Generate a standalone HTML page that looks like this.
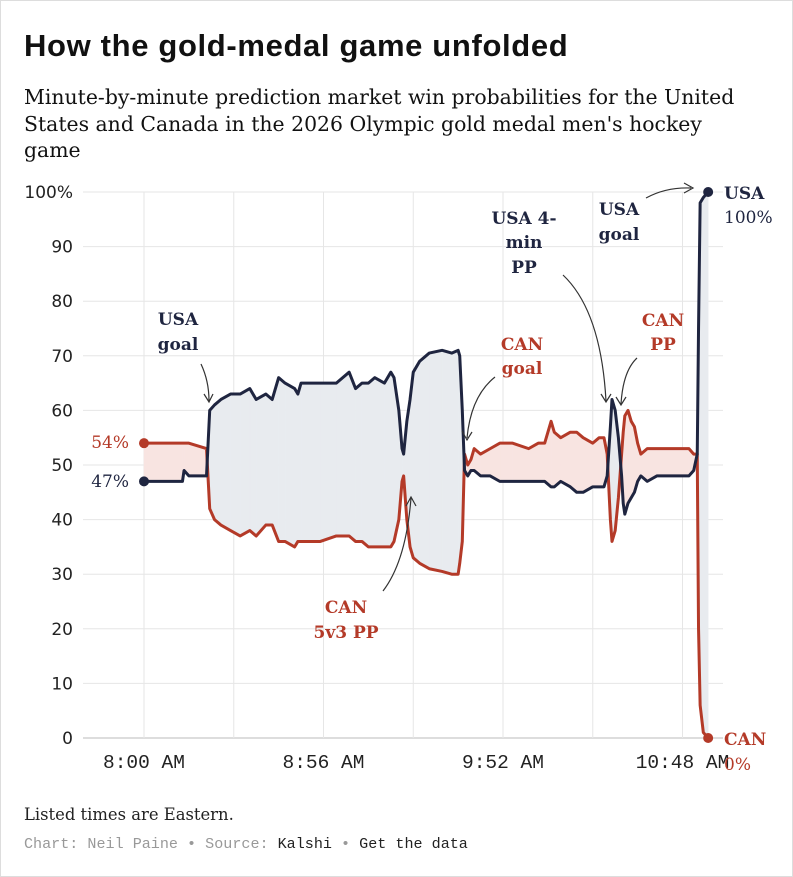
<!DOCTYPE html>
<html><head><meta charset="utf-8"><style>
body{margin:0;background:#fff;}
#wrap{position:relative;width:791px;height:875px;border:1px solid #ddd;background:#fff;overflow:hidden;}
h1{position:absolute;left:23px;top:27px;margin:0;font:bold 31px "Liberation Sans",sans-serif;color:#111;letter-spacing:0.65px}
.sub{position:absolute;left:23px;top:83px;width:740px;margin:0;font:20.4px/26.5px "DejaVu Serif",serif;color:#111}
.sub .br{display:block}
.note{position:absolute;left:23px;top:804px;font:16.4px "DejaVu Serif",serif;color:#222}
.foot{position:absolute;left:23px;top:834px;font:15.1px "Liberation Mono",monospace;color:#999}
.foot b{font-weight:normal;color:#222}
svg{position:absolute;left:0;top:0}
</style></head><body>
<div id="wrap">
<h1>How the gold-medal game unfolded</h1>
<p class="sub">Minute-by-minute prediction market win probabilities for the United<br>States and Canada in the 2026 Olympic gold medal men's hockey<br>game</p>
<svg id="chart" width="793" height="877"></svg>
<div class="note">Listed times are Eastern.</div>
<div class="foot">Chart: Neil Paine • Source: <b>Kalshi</b> • <b>Get the data</b></div>
</div>
<script>
const minutes=[0,12,12.5,14,19.5,20.5,22,24,27,30,33,35,38,40,42,44,47,48,49,55,60,64,66,68,70,72,75,77,78,79.5,80.5,81,82,83,84,86,89,93,96,98,98.5,99.3,100,101,102,103,105,108,111,115,120,123,125,127,128,130,133,135,137,140,142,143.5,144.5,145.5,146,147,148,149,149.5,150,151,152,153,154,155,157,160,165,170,171.5,172.6,173,173.5,174.5,176];
const usaValues=[47,47,49,48,48,60,61,62,63,63,64,62,63,62,66,65,64,63,65,65,65,67,64,65,65,66,65,67,66,60,53,52,58,62,67,69,70.5,71,70.5,71,70,60,49,48,49,49,48,48,47,47,47,47,47,46,46,47,46,45,45,46,46,46,48,57,62,60,55,48,43,41,43,44,45,47,48,47,48,48,48,49,52,75,98,99,100];
const canValues=[54,54,54,54,53,42,40,39,38,37,38,37,39,39,36,36,35,36,36,36,37,37,36,36,35,35,35,35,36,40,47,48,40,35,33,32,31,30.5,30,30,32,36,52,50,51,53,52,53,54,54,53,54,54,58,56,55,56,56,55,54,55,55,52,40,36,38,44,52,56,59,60,58,57,54,52,53,53,53,53,52,52,20,6,1,0];
const yTicks=[0,10,20,30,40,50,60,70,80,90,100];
const xTickMinutes=[0,56,112,168];
const xTickLabels=["8:00 AM","8:56 AM","9:52 AM","10:48 AM"];
const gridMinutes=[0,28,56,84,112,140,168];

const svg=document.getElementById('chart');
const NS='http://www.w3.org/2000/svg';
const X=m=>143+m*3.2054;
const Y=v=>737-v*5.46;
function mk(tag,attrs,parent){const e=document.createElementNS(NS,tag);for(const k in attrs)e.setAttribute(k,attrs[k]);(parent||svg).appendChild(e);return e;}
const USA='#1f2540',CAN='#b43a28';
yTicks.forEach(t=>{
  const l=mk('line',{x1:82,x2:722,y1:Y(t),y2:Y(t),stroke:t===0?'#bbb':'#e6e6e6','stroke-width':1});
  
  
  const tx=mk('text',{x:72,y:Y(t)+6,'text-anchor':'end','font-family':'DejaVu Sans, sans-serif','font-size':17,fill:'#222'});
  tx.textContent=t===100?'100%':String(t);
  
  
});
gridMinutes.forEach(m=>{
  const l=mk('line',{x1:X(m),x2:X(m),y1:191,y2:737,stroke:'#e6e6e6','stroke-width':1});
  
  
});
xTickMinutes.forEach((m,i)=>{
  const tx=mk('text',{x:X(m),y:767,'text-anchor':'middle','font-family':'Liberation Mono, monospace','font-size':19.5,fill:'#222'});
  tx.textContent=xTickLabels[i];
  
  
});
const fillG=mk('g',{});


for(let i=0;i<minutes.length-1;i++){
  const m0=minutes[i],m1=minutes[i+1],u0=usaValues[i],u1=usaValues[i+1],c0=canValues[i],c1=canValues[i+1];
  const d0=u0-c0,d1=u1-c1;
  const segs=[];
  if(d0*d1<0){const t=d0/(d0-d1);const mm=m0+t*(m1-m0),vv=u0+t*(u1-u0);
    segs.push([m0,u0,c0,mm,vv,vv,d0]);segs.push([mm,vv,vv,m1,u1,c1,d1]);}
  else segs.push([m0,u0,c0,m1,u1,c1,d0+d1]);
  segs.forEach(s=>{
    mk('polygon',{points:`${X(s[0])},${Y(s[1])} ${X(s[3])},${Y(s[4])} ${X(s[3])},${Y(s[5])} ${X(s[0])},${Y(s[2])}`,fill:s[6]>=0?'#e8ebef':'#f8e4e1',stroke:s[6]>=0?'#e8ebef':'#f8e4e1','stroke-width':0.5},fillG);
  });
}
function line(vals,col,name){
  const p=mk('polyline',{points:minutes.map((m,i)=>X(m)+','+Y(vals[i])).join(' '),fill:'none',stroke:col,'stroke-width':3,'stroke-linejoin':'round'});
  
  
}
line(canValues,CAN,'can-line');
line(usaValues,USA,'usa-line');
const last=minutes.length-1;
[[0,usaValues,USA,'usa-start-dot'],[0,canValues,CAN,'can-start-dot'],[last,usaValues,USA,'usa-end-dot'],[last,canValues,CAN,'can-end-dot']].forEach(a=>{
  const c=mk('circle',{cx:X(minutes[a[0]]),cy:Y(a[1][a[0]]),r:5,fill:a[2]});
  
  
});
function txt(x,y,s,col,bold,anchor,name){
  const t=mk('text',{x:x,y:y,'text-anchor':anchor||'middle','font-family':'DejaVu Serif, serif','font-size':17,'font-weight':bold?'bold':'normal',fill:col});
  t.textContent=s;
  
  
}
txt(128,447,Math.round(canValues[0])+'%',CAN,false,'end','can-start-label');
txt(128,486,Math.round(usaValues[0])+'%',USA,false,'end','usa-start-label');
txt(723,198,'USA',USA,true,'start','usa-end-label');
txt(723,222,usaValues[last]+'%',USA,false,'start','usa-end-value');
txt(723,744,'CAN',CAN,true,'start','can-end-label');
txt(723,769,canValues[last]+'%',CAN,false,'start','can-end-value');
txt(177,324,'USA',USA,true,'middle','annotation-usa-goal-1');
txt(177,349,'goal',USA,true,'middle','annotation-usa-goal-1');
txt(345,612,'CAN',CAN,true,'middle','annotation-can-5v3');
txt(345,637,'5v3 PP',CAN,true,'middle','annotation-can-5v3');
txt(521,349,'CAN',CAN,true,'middle','annotation-can-goal');
txt(521,373,'goal',CAN,true,'middle','annotation-can-goal');
txt(523,223,'USA 4-',USA,true,'middle','annotation-usa-4min-pp');
txt(523,247,'min',USA,true,'middle','annotation-usa-4min-pp');
txt(523,272,'PP',USA,true,'middle','annotation-usa-4min-pp');
txt(662,325,'CAN',CAN,true,'middle','annotation-can-pp');
txt(662,349,'PP',CAN,true,'middle','annotation-can-pp');
txt(618,214,'USA',USA,true,'middle','annotation-usa-goal-2');
txt(618,239,'goal',USA,true,'middle','annotation-usa-goal-2');
const arrows=[
 ['M200,363 Q208,380 208,400','M203,393 L208,401 L212,393'],
 ['M382,590 Q405,560 410,497','M405,505 L410,496 L415,505'],
 ['M494,376 Q470,395 466,437','M461,430 L466,439 L471,431'],
 ['M562,274 Q600,310 605,400','M600,393 L605,401 L610,393'],
 ['M636,357 Q622,370 620,403','M615,396 L620,404 L625,396'],
 ['M645,197 Q665,186 690,187','M683,182 L692,187 L683,192']
];
arrows.forEach(a=>{
  const g=mk('g',{fill:'none',stroke:'#333','stroke-width':1.2});
  
  
  mk('path',{d:a[0]},g);mk('path',{d:a[1]},g);
});
</script>
</body></html>
